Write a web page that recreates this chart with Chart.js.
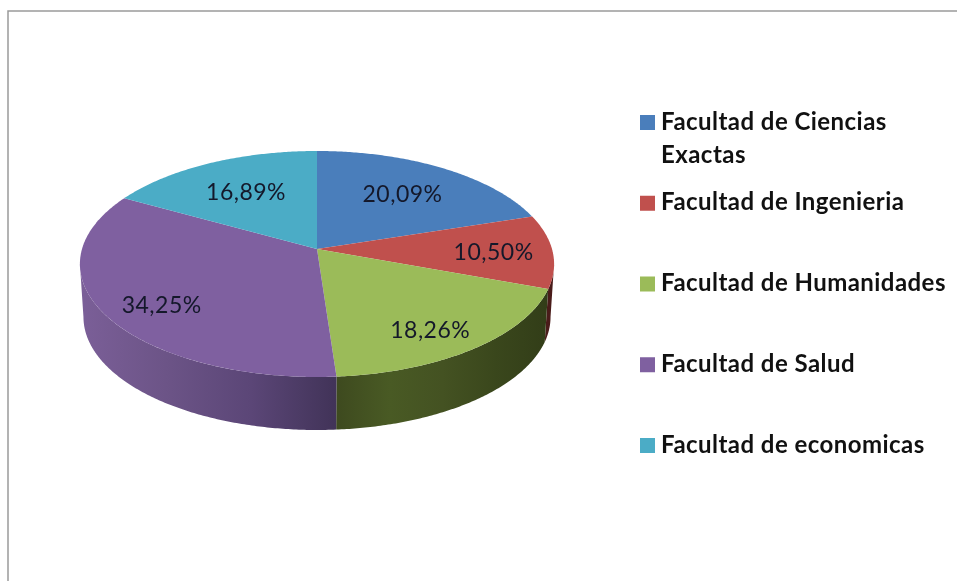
<!DOCTYPE html>
<html lang="es">
<head>
<meta charset="utf-8">
<title>Facultades</title>
<script src="https://cdn.jsdelivr.net/npm/chart.js@4"></script>
<style>
  html, body { margin: 0; padding: 0; background: #fff; }
  canvas { display: block; filter: blur(0.5px); }
</style>
</head>
<body>
<canvas id="chart" width="957" height="581"></canvas>
<script>
const categories = [
  ["Facultad de Ciencias", "Exactas"],
  "Facultad de Ingenieria",
  "Facultad de Humanidades",
  "Facultad de Salud",
  "Facultad de economicas",
];
const percentages = [20.09, 10.50, 18.26, 34.25, 16.89];
const sliceColors = ["#4a7ebb", "#c0504d", "#9bbb59", "#7f60a0", "#4bacc6"];

// side wall shading, left to right
const wallShades = [
  ["#2f4a70", "#2f4a70"],
  ["#4a1c1a", "#4a1c1a"],
  ["#3e4a1f", "#495a24", "#445222", "#3a471c", "#323d18"],
  ["#7b5f98", "#6c5487", "#5b4677", "#413358"],
  ["#2d6a7a", "#2d6a7a"],
];

// the disc is tilted in perspective: unit circle -> screen
const CX = 317, CY = 249, R = 235, A = 111, B = 0.1327;
const DEPTH = 53, BOTTOM_SCALE = 0.985;

function project(angle, r) {
  const u = Math.cos(angle) * r, v = Math.sin(angle) * r;
  const d = 1 - B * v;
  return { x: CX + R * u / d, y: CY + A * v / d };
}

function wallBottom(p) {
  return { x: CX + (p.x - CX) * BOTTOM_SCALE, y: p.y + DEPTH };
}

function arcPoints(start, end) {
  const n = Math.max(2, Math.ceil((end - start) / 0.01));
  const pts = [];
  for (let i = 0; i <= n; i++) pts.push(project(start + (end - start) * i / n, 1));
  return pts;
}

const labelRadius = [0.66, 0.75, 0.75, 0.76, 0.65];
const labelNudge = [[0, 1], [0, 2], [-2, 9], [4, 9], [1, 1]];

const disc3d = {
  id: "disc3d",
  beforeDatasetDraw(chart, args) {
    const ctx = chart.ctx;
    const arcs = chart.getDatasetMeta(args.index).data;
    // only the front of the rim shows, the tangent points are where sin = B
    const frontStart = Math.asin(B), frontEnd = Math.PI - Math.asin(B);
    ctx.save();
    arcs.forEach((arc, i) => {
      const norm = a => { let t = a; while (t < -Math.PI / 2) t += Math.PI * 2; return t; };
      const s = Math.max(norm(arc.startAngle), frontStart);
      const e = Math.min(norm(arc.startAngle) + (arc.endAngle - arc.startAngle), frontEnd);
      if (e <= s) return;
      const top = arcPoints(s, e);
      const bottom = top.map(wallBottom).reverse();
      const xs = top.map(p => p.x);
      const left = Math.min(...xs), right = Math.max(...xs);
      const grad = ctx.createLinearGradient(left, 0, right, 0);
      wallShades[i].forEach((c, k, all) => grad.addColorStop(k / (all.length - 1), c));
      ctx.beginPath();
      top.concat(bottom).forEach((p, k) => k ? ctx.lineTo(p.x, p.y) : ctx.moveTo(p.x, p.y));
      ctx.closePath();
      ctx.fillStyle = grad;
      ctx.fill();
    });
    arcs.forEach((arc, i) => {
      ctx.beginPath();
      ctx.moveTo(CX, CY);
      arcPoints(arc.startAngle, arc.endAngle).forEach(p => ctx.lineTo(p.x, p.y));
      ctx.closePath();
      ctx.fillStyle = sliceColors[i];
      ctx.fill();
    });
    ctx.font = "23px Lato";
    ctx.letterSpacing = "0.5px";
    ctx.fillStyle = "#14182a";
    ctx.textAlign = "center";
    ctx.textBaseline = "middle";
    arcs.forEach((arc, i) => {
      const p = project((arc.startAngle + arc.endAngle) / 2, labelRadius[i]);
      const text = percentages[i].toFixed(2).replace(".", ",") + "%";
      ctx.fillText(text, p.x + labelNudge[i][0], p.y + labelNudge[i][1]);
    });
    ctx.restore();
    return false;
  },
};

const sideLegend = {
  id: "sideLegend",
  afterDraw(chart) {
    const ctx = chart.ctx;
    ctx.save();
    // frame of the original picture
    ctx.strokeStyle = "#9a9a9a";
    ctx.lineWidth = 1.5;
    ctx.beginPath();
    ctx.moveTo(8, 581);
    ctx.lineTo(8, 11);
    ctx.lineTo(957, 11);
    ctx.stroke();
    ctx.font = "700 24px Lato";
    ctx.letterSpacing = "0.45px";
    ctx.textBaseline = "middle";
    categories.forEach((label, i) => {
      const y = 122 + i * 80.75;
      ctx.fillStyle = sliceColors[i];
      ctx.fillRect(640, y - 7, 15, 15);
      ctx.fillStyle = "#111";
      [].concat(label).forEach((line, k) => ctx.fillText(line, 661, y + k * 33));
    });
    ctx.restore();
  },
};

new Chart(document.getElementById("chart"), {
  type: "pie",
  data: {
    labels: categories,
    datasets: [{ data: percentages, backgroundColor: sliceColors, borderWidth: 0 }],
  },
  options: {
    responsive: false,
    animation: false,
    plugins: { legend: { display: false }, tooltip: { enabled: false } },
  },
  plugins: [disc3d, sideLegend],
});
</script>
</body>
</html>
